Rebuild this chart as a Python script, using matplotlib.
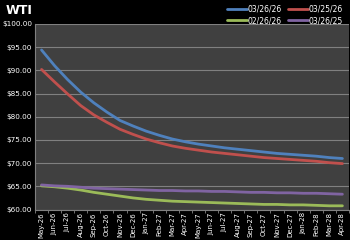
import matplotlib
matplotlib.use("Agg")
import matplotlib.pyplot as plt
import numpy as np

months = ["May-26", "Jun-26", "Jul-26", "Aug-26", "Sep-26", "Oct-26", "Nov-26", "Dec-26",
          "Jan-27", "Feb-27", "Mar-27", "Apr-27", "May-27", "Jun-27", "Jul-27", "Aug-27",
          "Sep-27", "Oct-27", "Nov-27", "Dec-27", "Jan-28", "Feb-28", "Mar-28", "Apr-28"]

curve_032626 = [94.4, 91.0, 88.0, 85.3, 83.0, 81.0, 79.2, 78.0, 76.9, 76.0, 75.2, 74.6,
                74.1, 73.7, 73.3, 73.0, 72.7, 72.4, 72.1, 71.9, 71.7, 71.5, 71.2, 71.0]
curve_032526 = [90.2, 87.5, 84.9, 82.4, 80.4, 78.8, 77.3, 76.2, 75.2, 74.4, 73.7, 73.2,
                72.8, 72.4, 72.1, 71.8, 71.5, 71.2, 71.0, 70.8, 70.6, 70.4, 70.1, 69.9]
curve_022626 = [65.1, 64.9, 64.6, 64.2, 63.7, 63.3, 62.9, 62.5, 62.2, 62.0, 61.8, 61.7,
                61.6, 61.5, 61.4, 61.3, 61.2, 61.1, 61.1, 61.0, 61.0, 60.9, 60.8, 60.8]
curve_032625 = [65.3, 65.1, 65.0, 64.8, 64.6, 64.5, 64.4, 64.3, 64.2, 64.1, 64.1, 64.0,
                64.0, 63.9, 63.9, 63.8, 63.7, 63.7, 63.6, 63.6, 63.5, 63.5, 63.4, 63.3]

series = [("03/26/26", curve_032626, "#4F81BD"),
          ("03/25/26", curve_032526, "#C0504D"),
          ("02/26/26", curve_022626, "#9BBB59"),
          ("03/26/25", curve_032625, "#8064A2")]

fig = plt.figure(figsize=(3.5, 2.4), dpi=100, facecolor="black")
ax = fig.add_axes([0.1, 0.127, 0.897, 0.773])
ax.set_facecolor("#404040")

x = np.arange(len(months))
lines = {}
for label, vals, color in series:
    lines[label], = ax.plot(x, vals, color=color, lw=2.0, label=label, solid_capstyle="round")

ax.set_xlim(-0.5, len(months) - 0.5)
ax.set_ylim(60, 100)
yt = np.arange(60, 101, 5)
ax.set_yticks(yt)
ax.set_yticklabels([f"${v:.2f}" for v in yt])
ax.grid(axis="y", color="#808080", lw=0.8)
ax.set_axisbelow(True)

ax.set_xticks(x)
ax.set_xticklabels(months, rotation=90)
ax.set_xticks(np.arange(-0.5, len(months), 1), minor=True)
ax.tick_params(axis="x", which="major", length=0, colors="white", labelsize=5, pad=2)
ax.tick_params(axis="x", which="minor", length=2, color="#a0a0a0", width=0.5)
ax.tick_params(axis="y", length=0, colors="white", labelsize=5.2, pad=2)

for side in ["top", "right"]:
    ax.spines[side].set_visible(False)
ax.spines["left"].set_color("#808080")
ax.spines["bottom"].set_color("#808080")

fig.text(0.015, 0.955, "WTI", color="white", fontsize=9, fontweight="bold", va="center")

# legend fills column-wise, so order to get rows: 03/26/26 03/25/26 / 02/26/26 03/26/25
order = ["03/26/26", "02/26/26", "03/25/26", "03/26/25"]
fig.legend([lines[k] for k in order], order, loc="upper right", bbox_to_anchor=(1.0, 1.01),
           ncol=2, frameon=False, fontsize=5.5, labelcolor="white", handlelength=2.6,
           handletextpad=0.1, columnspacing=0.8, labelspacing=0.35)

fig.savefig("out.png", dpi=100, facecolor="black")
